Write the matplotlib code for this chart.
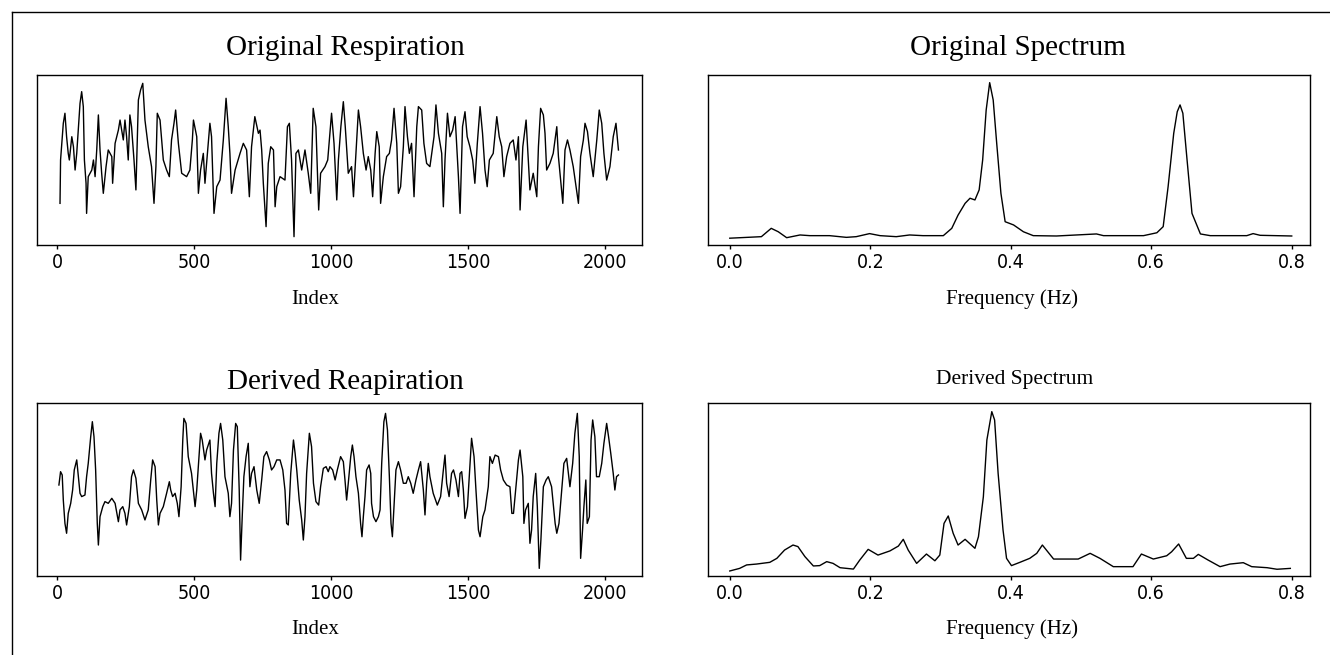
import matplotlib
matplotlib.use("Agg")
import matplotlib.pyplot as plt
from matplotlib.lines import Line2D

# ---------------------------------------------------------------------------
# Data (amplitudes on a 0-100 scale of the panel height)
# ---------------------------------------------------------------------------
orig_resp_idx = [11, 13, 23, 29, 35, 41, 45, 54, 60, 66, 72, 84, 90, 96, 100, 106, 108, 114, 127, 133,
                 139, 145, 151, 157, 163, 169, 179, 187, 200, 203, 212, 224, 230, 242, 248, 254, 260, 266,
                 272, 281, 288, 297, 305, 313, 321, 333, 345, 354, 361, 366, 376, 388, 400, 410, 418, 427,
                 433, 443, 455, 473, 485, 494, 498, 510, 516, 524, 534, 540, 558, 564, 573, 583, 595, 607,
                 617, 625, 631, 637, 650, 668, 680, 692, 702, 710, 722, 735, 741, 747, 753, 763, 771, 780,
                 790, 796, 802, 814, 832, 841, 848, 856, 865, 872, 881, 893, 905, 917, 926, 935, 945, 955,
                 962, 978, 988, 996, 1002, 1011, 1021, 1027, 1036, 1045, 1052, 1063, 1075, 1082, 1091,
                 1100, 1108, 1118, 1128, 1136, 1145, 1152, 1161, 1167, 1176, 1181, 1191, 1203, 1213, 1221,
                 1230, 1240, 1246, 1254, 1264, 1270, 1279, 1286, 1294, 1303, 1313, 1319, 1331, 1339, 1349,
                 1361, 1376, 1383, 1392, 1404, 1410, 1416, 1425, 1434, 1444, 1453, 1465, 1471, 1480, 1489,
                 1497, 1507, 1517, 1525, 1534, 1544, 1553, 1562, 1570, 1578, 1592, 1605, 1614, 1623, 1631,
                 1641, 1653, 1665, 1675, 1684, 1690, 1700, 1712, 1720, 1726, 1738, 1751, 1757, 1765, 1775,
                 1781, 1787, 1799, 1811, 1824, 1830, 1846, 1854, 1863, 1872, 1884, 1903, 1911, 1921, 1927,
                 1936, 1945, 1957, 1970, 1979, 1988, 1996, 2006, 2018, 2030, 2040, 2049]
orig_resp_amp = [24.5, 50, 71.6, 77.5, 63.7, 53.9, 50, 63.7, 57.8, 44.1, 53.9, 83.3, 90.2, 81.4, 50, 36.3,
                 18.6, 40.2, 44.1, 50, 40.2, 55.9, 76.5, 55.9, 42.2, 30.4, 46.1, 55.9, 52, 36.3, 59.8, 67.6,
                 73.5, 61.8, 73.5, 63.7, 50, 76.5, 69.6, 50, 32.4, 85.3, 91.2, 95.1, 73.5, 57.8, 46.1, 24.5,
                 46.1, 77.5, 73.5, 50, 44.1, 40.2, 61.8, 71.6, 79.4, 59.8, 42.2, 40.2, 44.1, 61.8, 73.5,
                 63.7, 30.4, 44.1, 53.9, 36.3, 71.6, 63.7, 18.6, 34.3, 38.2, 61.8, 86.3, 69.6, 53.9, 30.4,
                 44.1, 53.9, 59.8, 55.9, 28.4, 57.8, 75.5, 65.7, 67.6, 55.9, 36.3, 10.8, 48, 57.8, 55.9,
                 22.5, 34.3, 40.2, 38.2, 69.6, 71.6, 50, 4.9, 53.9, 55.9, 44.1, 55.9, 42.2, 30.4, 80.4, 69.6,
                 20.6, 42.2, 46.1, 50, 65.7, 77.5, 59.8, 26.5, 50, 69.6, 84.3, 69.6, 42.2, 46.1, 28.4, 53.9,
                 79.4, 69.6, 53.9, 44.1, 52, 44.1, 28.4, 53.9, 66.7, 57.8, 24.5, 40.2, 52, 53.9, 61.8, 80.4,
                 59.8, 30.4, 34.3, 57.8, 81.4, 63.7, 53.9, 59.8, 28.4, 69.6, 81.4, 79.4, 59.8, 48, 46.1,
                 63.7, 82.4, 65.7, 53.9, 22.5, 50, 77.5, 63.7, 67.6, 75.5, 40.2, 18.6, 69.6, 78.4, 63.7,
                 57.8, 50, 36.3, 59.8, 81.4, 65.7, 44.1, 34.3, 50, 53.9, 75.5, 63.7, 57.8, 40.2, 52, 59.8,
                 61.8, 50, 63.7, 20.6, 57.8, 73.5, 50, 32.4, 42.2, 28.4, 57.8, 80.4, 76.5, 65.7, 44.1, 48,
                 53.9, 69.6, 52, 24.5, 55.9, 61.8, 55.9, 46.1, 24.5, 52, 61.8, 71.6, 66.7, 53.9, 40.2, 61.8,
                 79.4, 71.6, 53.9, 38.2, 46.1, 63.7, 71.6, 55.9]

derived_resp_idx = [7, 13, 19, 23, 29, 35, 41, 50, 57, 63, 72, 78, 84, 90, 102, 108, 114, 123, 129, 135,
                    141, 147, 151, 157, 167, 175, 187, 200, 212, 224, 230, 240, 248, 254, 264, 272, 279,
                    288, 297, 309, 321, 333, 342, 349, 358, 364, 370, 376, 388, 400, 410, 415, 422, 431,
                    439, 445, 453, 459, 463, 471, 479, 491, 504, 510, 518, 524, 530, 540, 546, 558, 564,
                    571, 577, 583, 591, 597, 605, 613, 625, 631, 637, 644, 652, 658, 665, 670, 676, 682,
                    690, 698, 704, 710, 719, 729, 738, 747, 755, 765, 775, 783, 792, 802, 814, 824, 832,
                    838, 844, 853, 863, 869, 875, 884, 893, 899, 905, 911, 921, 929, 936, 945, 955, 962,
                    972, 982, 990, 996, 1006, 1015, 1023, 1035, 1045, 1051, 1057, 1063, 1072, 1078, 1084,
                    1091, 1100, 1108, 1113, 1118, 1124, 1130, 1139, 1145, 1148, 1155, 1164, 1173, 1179,
                    1185, 1193, 1199, 1206, 1213, 1219, 1224, 1230, 1237, 1246, 1254, 1264, 1274, 1282,
                    1291, 1300, 1310, 1319, 1327, 1337, 1343, 1349, 1355, 1361, 1373, 1388, 1400, 1410,
                    1416, 1422, 1431, 1440, 1447, 1456, 1465, 1471, 1477, 1483, 1489, 1498, 1507, 1513,
                    1522, 1529, 1538, 1544, 1554, 1562, 1574, 1580, 1589, 1599, 1611, 1619, 1629, 1641,
                    1653, 1660, 1666, 1675, 1684, 1690, 1700, 1704, 1710, 1720, 1726, 1732, 1738, 1747,
                    1753, 1760, 1766, 1775, 1785, 1793, 1805, 1818, 1824, 1832, 1842, 1850, 1860, 1872,
                    1882, 1890, 1899, 1906, 1911, 1918, 1923, 1930, 1935, 1943, 1949, 1955, 1963, 1969,
                    1979, 1988, 1996, 2006, 2013, 2021, 2030, 2036, 2042, 2049]
derived_resp_amp = [52.6, 60.3, 58.4, 43.9, 30.4, 24.7, 36.2, 42, 49.7, 61.3, 67.1, 57.4, 47.8, 45.9, 46.8,
                    57.4, 65.1, 80.5, 89.2, 80.5, 61.3, 30.4, 17.9, 34.3, 40.1, 43, 42, 44.9, 42, 31.4,
                    38.2, 40.1, 36.2, 29.5, 40.1, 57.4, 61.3, 56.5, 42, 38.2, 32.4, 38.2, 55.5, 67.1, 63.2,
                    43.9, 29.5, 36.2, 40.1, 47.8, 54.5, 49.7, 45.9, 47.8, 42, 34.3, 51.6, 78.6, 91.1, 88.2,
                    69, 59.3, 40.1, 49.7, 69, 82.5, 78.6, 67.1, 72.8, 78.6, 59.3, 47.8, 40.1, 65.1, 82.5,
                    88.2, 78.6, 57.4, 47.8, 34.3, 42, 72.8, 88.2, 86.3, 49.7, 9.2, 34.3, 57.4, 69, 76.7,
                    51.6, 59.3, 63.2, 49.7, 42, 55.5, 69, 71.9, 67.1, 61.3, 63.2, 67.1, 67.1, 61.3, 49.7,
                    30.4, 29.5, 59.3, 78.6, 70.9, 61.3, 43.9, 32.4, 20.8, 34.3, 59.3, 82.5, 74.8, 53.6, 43,
                    41, 51.6, 62.2, 63.2, 60.3, 63.2, 61.3, 55.5, 61.3, 69, 66.1, 55.5, 43.9, 53.6, 69,
                    75.7, 69, 57.4, 47.8, 30.4, 22.7, 34.3, 45.9, 61.3, 64.2, 59.3, 42, 34.3, 31.4, 34.3,
                    38.2, 65.1, 89.2, 94, 84.4, 57.4, 30.4, 22.7, 40.1, 61.3, 66.1, 61.3, 53.6, 53.6, 57.4,
                    53.6, 47.8, 55.5, 61.3, 66.1, 49.7, 35.3, 53.6, 65.1, 57.4, 47.8, 41, 45.9, 61.3, 69.9,
                    53.6, 45.9, 59.3, 61.3, 55.5, 45.9, 59.3, 60.3, 49.7, 33.3, 40.1, 63.2, 79.6, 69, 49.7,
                    26.6, 22.7, 34.3, 38.2, 51.6, 69, 65.1, 69.9, 69, 61.3, 55.5, 52.6, 51.6, 36.2, 36.2,
                    51.6, 67.1, 72.8, 57.4, 30.4, 38.2, 42, 18.9, 26.6, 45.9, 59.3, 40.1, 4.4, 20.8, 51.6,
                    55.5, 57.4, 51.6, 30.4, 24.7, 30.4, 49.7, 65.1, 68, 51.6, 65.1, 82.5, 94, 69, 10.2,
                    26.6, 40.1, 55.5, 30.4, 34.3, 78.6, 90.2, 80.5, 57.4, 57.4, 65.1, 76.7, 88.2, 80.5,
                    70.9, 59.3, 49.7, 57.4, 58.4]

orig_spec_freq = [0.0, 0.045, 0.059, 0.069, 0.081, 0.10, 0.114, 0.142, 0.166, 0.180, 0.199, 0.214, 0.237,
                  0.256, 0.275, 0.304, 0.316, 0.325, 0.335, 0.342, 0.349, 0.355, 0.360, 0.365, 0.370,
                  0.375, 0.380, 0.386, 0.392, 0.404, 0.418, 0.432, 0.465, 0.522, 0.532, 0.589, 0.608,
                  0.617, 0.624, 0.632, 0.637, 0.641, 0.645, 0.651, 0.658, 0.670, 0.684, 0.736, 0.745,
                  0.755, 0.800]
orig_spec_pow = [4.0, 4.9, 9.8, 7.8, 4.3, 5.9, 5.5, 5.5, 4.5, 4.9, 6.7, 5.5, 4.9, 5.9, 5.5, 5.5, 9.8, 17.6,
                 24.5, 27.5, 26.5, 32.4, 50, 79.4, 95.5, 85.3, 59.8, 30.4, 13.7, 11.8, 7.8, 5.5, 5.3, 6.5,
                 5.5, 5.5, 7.2, 10.8, 34.3, 65.7, 78.4, 82.4, 77.5, 50, 18.6, 6.5, 5.5, 5.5, 6.7, 5.7, 5.3]

derived_spec_freq = [0.0, 0.014, 0.024, 0.038, 0.057, 0.067, 0.078, 0.090, 0.097, 0.107, 0.119, 0.128,
                     0.138, 0.147, 0.157, 0.176, 0.185, 0.197, 0.211, 0.228, 0.240, 0.247, 0.254, 0.266,
                     0.280, 0.292, 0.299, 0.305, 0.311, 0.318, 0.325, 0.335, 0.349, 0.354, 0.361, 0.366,
                     0.373, 0.377, 0.382, 0.389, 0.394, 0.401, 0.413, 0.427, 0.437, 0.445, 0.461, 0.496,
                     0.513, 0.527, 0.546, 0.574, 0.586, 0.603, 0.622, 0.629, 0.639, 0.650, 0.660, 0.667,
                     0.681, 0.698, 0.712, 0.731, 0.743, 0.765, 0.779, 0.798]
derived_spec_pow = [2.9, 4.4, 6.4, 6.9, 7.9, 10.2, 15.0, 17.9, 17.0, 11.2, 5.8, 6.0, 8.3, 7.3, 4.8, 4.0,
                    9.2, 15.4, 12.1, 14.5, 17.3, 21.2, 15.0, 7.3, 12.7, 8.8, 12.1, 30.4, 34.7, 24.7, 17.9,
                    21.2, 16.0, 22.7, 45.8, 78.6, 95.0, 90.2, 59.4, 26.6, 10.2, 6.0, 7.9, 10.2, 13.1, 17.9,
                    9.8, 9.8, 13.1, 10.2, 5.4, 5.4, 12.7, 9.8, 11.7, 14.0, 18.5, 10.2, 10.2, 12.5, 9.2, 5.4,
                    6.9, 7.7, 5.4, 4.8, 3.9, 4.4]

index_ticks = [0, 500, 1000, 1500, 2000]
freq_ticks = [0.0, 0.2, 0.4, 0.6, 0.8]
freq_tick_labels = ["0.0", "0.2", "0.4", "0.6", "0.8"]

titles = ["Original Respiration", "Original Spectrum", "Derived Reapiration", "Derived Spectrum"]

# ---------------------------------------------------------------------------
# Layout
# ---------------------------------------------------------------------------
W, H = 1330, 655
fig = plt.figure(figsize=(W / 100, H / 100), dpi=100)
fig.patch.set_facecolor("white")

SERIF = ["Liberation Serif", "DejaVu Serif"]
TICKFONT = ["DejaVu Sans"]


def px_axes(x0, y0, x1, y1):
    return fig.add_axes([x0 / W, 1 - y1 / H, (x1 - x0) / W, (y1 - y0) / H])


def fx(x):
    return x / W


def fy(y):
    return 1 - y / H


ax_tl = px_axes(37, 75, 642, 245)
ax_tr = px_axes(708, 75, 1310, 245)
ax_bl = px_axes(37, 403, 642, 576)
ax_br = px_axes(708, 403, 1310, 576)

LW = 1.0
ax_tl.plot(orig_resp_idx, orig_resp_amp, color="black", lw=LW)
ax_bl.plot(derived_resp_idx, derived_resp_amp, color="black", lw=LW)
ax_tr.plot(orig_spec_freq, orig_spec_pow, color="black", lw=LW)
ax_br.plot(derived_spec_freq, derived_spec_pow, color="black", lw=LW)

for ax in (ax_tl, ax_bl):
    ax.set_xlim(-73, 2135)
    ax.set_xticks(index_ticks)
    ax.set_xticklabels([str(t) for t in index_ticks])
for ax in (ax_tr, ax_br):
    ax.set_xlim(-0.031, 0.826)
    ax.set_xticks(freq_ticks)
    ax.set_xticklabels(freq_tick_labels)

for ax in (ax_tl, ax_bl, ax_tr, ax_br):
    ax.set_ylim(0, 100)
    ax.set_yticks([])
    for s in ax.spines.values():
        s.set_linewidth(1.0)
        s.set_color("black")
    ax.tick_params(axis="x", direction="out", length=3, width=1.0, pad=3,
                   labelsize=14, colors="black")
    for lab in ax.get_xticklabels():
        lab.set_family(TICKFONT)
        lab.set_fontstretch("condensed")
        lab.set_fontweight("light")

# Titles
fig.text(fx(345), fy(55), titles[0], family=SERIF, fontsize=21, ha="center", va="baseline")
fig.text(fx(1018), fy(55), titles[1], family=SERIF, fontsize=21, ha="center", va="baseline")
fig.text(fx(345), fy(389), titles[2], family=SERIF, fontsize=21, ha="center", va="baseline")
fig.text(fx(1015), fy(384), titles[3], family=SERIF, fontsize=15.5, ha="center", va="baseline")

# Axis labels
for ybase in (304, 634):
    fig.text(fx(315), fy(ybase), "Index", family=SERIF, fontsize=15, ha="center", va="baseline")
    fig.text(fx(1012), fy(ybase), "Frequency (Hz)", family=SERIF, fontsize=15, ha="center",
             va="baseline")

# Outer frame (left and top edges)
fig.add_artist(Line2D([fx(12), fx(12)], [fy(12), 0], transform=fig.transFigure,
                      color="black", lw=1.0))
fig.add_artist(Line2D([fx(12), 1], [fy(12), fy(12)], transform=fig.transFigure,
                      color="black", lw=1.0))

fig.savefig("out.png", dpi=100, facecolor="white")
